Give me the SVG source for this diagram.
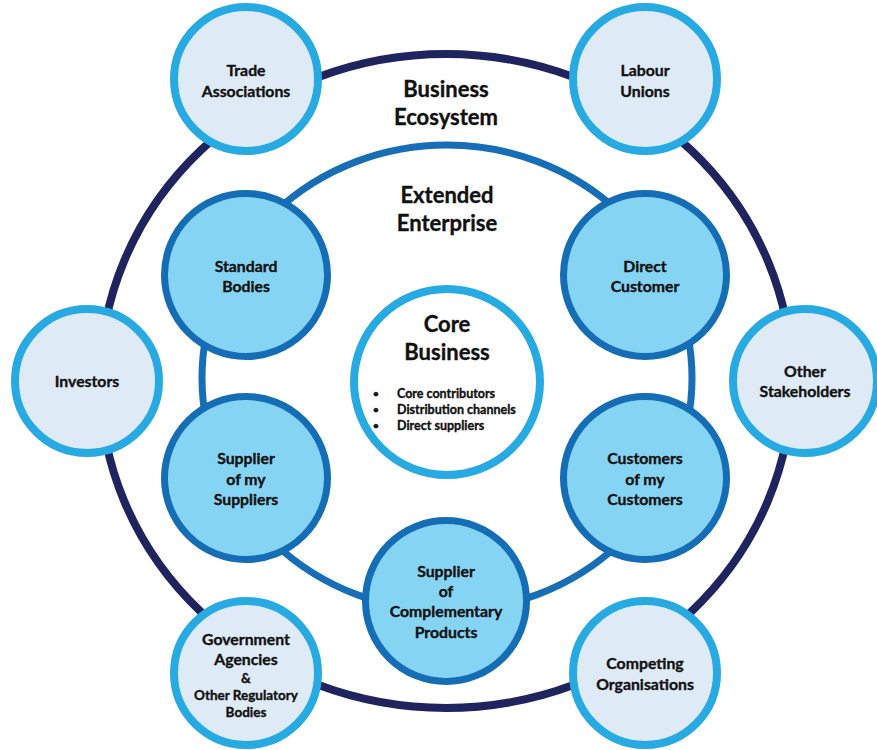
<svg xmlns="http://www.w3.org/2000/svg" width="877" height="750" viewBox="0 0 877 750">
<style>
.outer{fill:#deebf6;stroke:#27a9e1;stroke-width:8}
.mid{fill:#86d4f4;stroke:#156db6;stroke-width:7}
.core{fill:#ffffff;stroke:#27a9e1;stroke-width:8}
text{font-family:Lato,"Open Sans",sans-serif;font-weight:bold;fill:#111;text-anchor:middle;stroke:#111;stroke-width:0.35}
.n{font-size:15.8px}
.t{font-size:22px}
.b{font-size:12.5px;text-anchor:start}
.s{font-size:13.5px}
.d{font-size:10px;text-anchor:start}
</style>
<rect width="877" height="750" fill="#ffffff"/>
<g id="connectors">
<ellipse cx="446" cy="381" rx="346" ry="327" fill="none" stroke="#20245e" stroke-width="8"/>
<ellipse cx="447" cy="378" rx="245" ry="233" fill="none" stroke="#176eb7" stroke-width="7"/>
</g>
<g id="title-ecosystem"><text class="t" x="446" y="97">Business</text><text class="t" x="446" y="125">Ecosystem</text></g>
<g id="title-extended"><text class="t" x="447" y="203">Extended</text><text class="t" x="447" y="231">Enterprise</text></g>
<g id="trade-associations"><circle class="outer" cx="246" cy="79" r="72"/><text class="n" x="246" y="76">Trade</text><text class="n" x="246" y="97">Associations</text></g>
<g id="labour-unions"><circle class="outer" cx="645" cy="79" r="72"/><text class="n" x="645" y="76">Labour</text><text class="n" x="645" y="97">Unions</text></g>
<g id="investors"><circle class="outer" cx="87" cy="381" r="72"/><text class="n" x="87" y="387">Investors</text></g>
<g id="other-stakeholders"><circle class="outer" cx="805" cy="381" r="72"/><text class="n" x="805" y="377">Other</text><text class="n" x="805" y="397">Stakeholders</text></g>
<g id="government-agencies"><circle class="outer" cx="246" cy="673" r="72"/><text class="n" x="246" y="645">Government</text><text class="n" x="246" y="665">Agencies</text><text class="s" x="246" y="683">&amp;</text><text class="s" x="246" y="700">Other Regulatory</text><text class="s" x="246" y="717">Bodies</text></g>
<g id="competing-organisations"><circle class="outer" cx="645" cy="673" r="72"/><text class="n" x="645" y="669">Competing</text><text class="n" x="645" y="690">Organisations</text></g>
<g id="standard-bodies"><circle class="mid" cx="246" cy="275" r="81.5"/><text class="n" x="246" y="272">Standard</text><text class="n" x="246" y="292">Bodies</text></g>
<g id="direct-customer"><circle class="mid" cx="645" cy="275" r="81.5"/><text class="n" x="645" y="272">Direct</text><text class="n" x="645" y="292">Customer</text></g>
<g id="supplier-of-my-suppliers"><circle class="mid" cx="246" cy="478" r="81.5"/><text class="n" x="246" y="464">Supplier</text><text class="n" x="246" y="485">of my</text><text class="n" x="246" y="505">Suppliers</text></g>
<g id="customers-of-my-customers"><circle class="mid" cx="645" cy="478" r="81.5"/><text class="n" x="645" y="464">Customers</text><text class="n" x="645" y="485">of my</text><text class="n" x="645" y="505">Customers</text></g>
<g id="supplier-of-complementary-products"><circle class="mid" cx="446" cy="601" r="80.5"/><text class="n" x="446" y="577">Supplier</text><text class="n" x="446" y="597">of</text><text class="n" x="446" y="617">Complementary</text><text class="n" x="446" y="638">Products</text></g>
<g id="core-business"><circle class="core" cx="447" cy="382" r="93"/><text class="t" x="447" y="332">Core</text><text class="t" x="447" y="360">Business</text>
<text class="d" x="373" y="397">•</text><text class="b" x="397" y="398">Core contributors</text>
<text class="d" x="373" y="413">•</text><text class="b" x="397" y="414">Distribution channels</text>
<text class="d" x="373" y="429">•</text><text class="b" x="397" y="430">Direct suppliers</text></g>
</svg>
